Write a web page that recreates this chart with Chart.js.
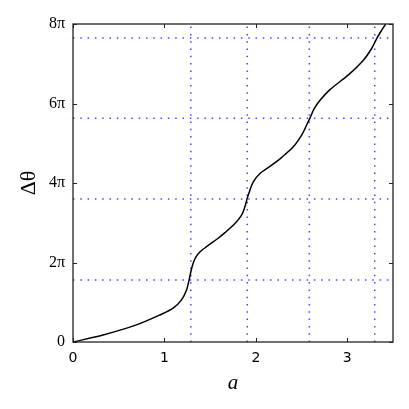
<!DOCTYPE html>
<html>
<head>
<meta charset="utf-8">
<script src="https://cdn.jsdelivr.net/npm/chart.js@4"></script>
<style>
  html, body { margin: 0; padding: 0; background: #fff; }
  #wrap { width: 409px; height: 409px; }
</style>
</head>
<body>
<div id="wrap"><canvas id="phaseChart" width="409" height="409"></canvas></div>
<script>
// curve: a vs delta theta (in units of pi)
const aValues = [0, 0.329, 0.694, 0.95, 1.095, 1.187, 1.242, 1.27, 1.292, 1.315, 1.345, 1.39, 1.461, 1.588, 1.662, 1.771, 1.844, 1.880, 1.906, 1.935, 1.972, 2.045, 2.173, 2.28, 2.41, 2.502, 2.556, 2.595, 2.635, 2.702, 2.811, 3.012, 3.176, 3.268, 3.323, 3.378, 3.42];
const dThetaOverPi = [0, 0.176, 0.43, 0.68, 0.85, 1.06, 1.31, 1.56, 1.80, 1.99, 2.14, 2.27, 2.40, 2.61, 2.75, 2.98, 3.19, 3.40, 3.62, 3.82, 4.03, 4.24, 4.45, 4.64, 4.91, 5.21, 5.46, 5.65, 5.86, 6.08, 6.35, 6.72, 7.09, 7.39, 7.64, 7.85, 8.0];

// dotted guide lines
const guideA = [1.289, 1.906, 2.585, 3.30];
const guideTheta = [1.56, 3.6, 5.63, 7.65];

const xTicks = [0, 1, 2, 3];
const yTicks = [0, 2, 4, 6, 8];
const xMax = 3.5;
const yMax = 8;

const guideStyle = {
    borderColor: "rgba(50,50,255,0.9)",
    borderWidth: 1.5,
    borderDash: [1.5, 5.8],
    pointRadius: 0,
    tension: 0,
    fill: false
};

const datasets = [{
    data: aValues.map((a, i) => ({ x: a, y: dThetaOverPi[i] })),
    borderColor: "#000",
    borderWidth: 1.5,
    pointRadius: 0,
    tension: 0.3,
    fill: false
}];

guideA.forEach(a => {
    datasets.push(Object.assign({ data: [{ x: a, y: 0 }, { x: a, y: yMax }] }, guideStyle));
});
guideTheta.forEach(t => {
    datasets.push(Object.assign({ data: [{ x: 0, y: t }, { x: xMax, y: t }] }, guideStyle));
});

// frame with inward ticks on all four sides
const framePlugin = {
    id: "frame",
    afterDatasetsDraw(chart) {
        const { ctx, chartArea: ca, scales } = chart;
        const len = 4;
        ctx.save();
        ctx.strokeStyle = "#222";
        ctx.lineWidth = 1;
        ctx.beginPath();
        xTicks.forEach(v => {
            const px = Math.round(scales.x.getPixelForValue(v)) + 0.5;
            ctx.moveTo(px, ca.bottom); ctx.lineTo(px, ca.bottom - len);
            ctx.moveTo(px, ca.top); ctx.lineTo(px, ca.top + len);
        });
        yTicks.forEach(v => {
            const py = Math.round(scales.y.getPixelForValue(v)) + 0.5;
            ctx.moveTo(ca.left, py); ctx.lineTo(ca.left + len, py);
            ctx.moveTo(ca.right, py); ctx.lineTo(ca.right - len, py);
        });
        ctx.stroke();
        ctx.lineWidth = 1.3;
        ctx.strokeRect(ca.left, ca.top, ca.right - ca.left, ca.bottom - ca.top);
        ctx.restore();
    }
};

new Chart(document.getElementById("phaseChart"), {
    type: "line",
    data: { datasets: datasets },
    plugins: [framePlugin],
    options: {
        responsive: false,
        animation: false,
        events: [],
        layout: { padding: { top: 24, right: 16, left: 0, bottom: 0 } },
        plugins: {
            legend: { display: false },
            tooltip: { enabled: false }
        },
        scales: {
            x: {
                type: "linear",
                min: 0,
                max: xMax,
                grid: { display: false, drawTicks: false },
                border: { display: false },
                afterFit(scale) { scale.height = 67; },
                ticks: {
                    stepSize: 1,
                    includeBounds: false,
                    padding: 8,
                    color: "#000",
                    font: { family: "DejaVu Sans", size: 14 }
                },
                title: {
                    display: true,
                    text: "a",
                    color: "#000",
                    font: { family: "Liberation Serif", size: 21, style: "italic" },
                    padding: { top: 0, bottom: 13 }
                }
            },
            y: {
                min: 0,
                max: yMax,
                grid: { display: false, drawTicks: false },
                border: { display: false },
                afterFit(scale) { scale.width = 73; },
                ticks: {
                    stepSize: 2,
                    padding: 8,
                    color: "#000",
                    font: { family: "Liberation Serif", size: 16 },
                    callback: v => v === 0 ? "0" : v + "π"
                },
                title: {
                    display: true,
                    text: "Δθ",
                    color: "#000",
                    font: { family: "Liberation Serif", size: 22 },
                    padding: { top: 16, bottom: 0 }
                }
            }
        }
    }
});
</script>
</body>
</html>
